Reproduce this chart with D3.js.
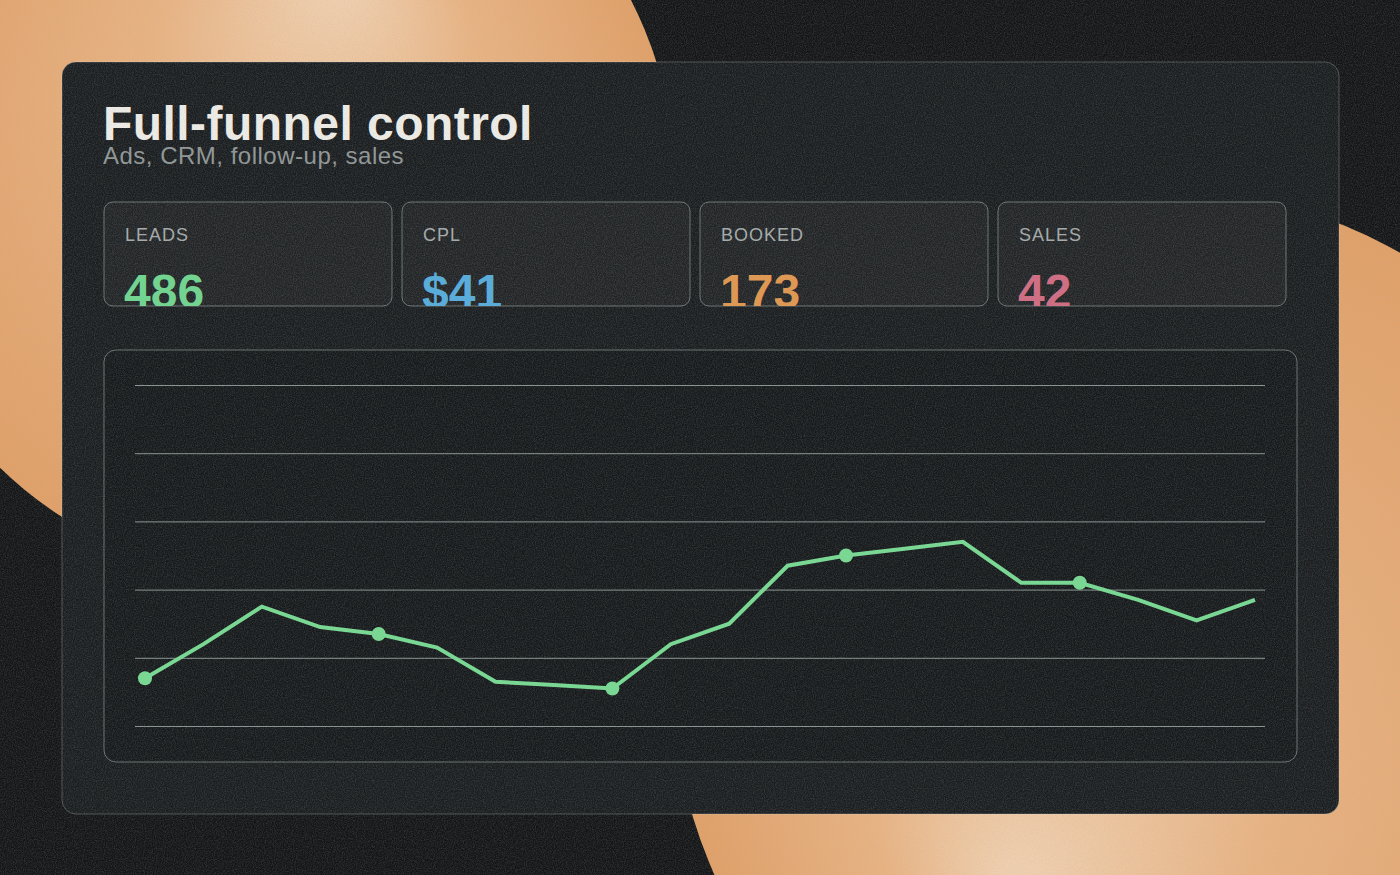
<!DOCTYPE html>
<html>
<head>
<meta charset="utf-8">
<script src="https://cdn.jsdelivr.net/npm/d3@7"></script>
<style>
  body { margin: 0; background: #131517; }
  svg { display: block; font-family: "Liberation Sans", Arial, sans-serif; }
</style>
</head>
<body>
<div id="chart"></div>
<script>
var title = "Full-funnel control";
var subtitle = "Ads, CRM, follow-up, sales";

var kpiLabels = ["LEADS", "CPL", "BOOKED", "SALES"];
var kpiValues = ["486", "$41", "173", "42"];
var kpiColors = ["#6fd68f", "#55acdc", "#e0974f", "#d06b82"];

// daily leads index
var days = d3.range(1, 21);
var leads = [14, 24, 35, 29, 27, 23, 13, 12, 11, 24, 30, 47, 50, 52, 54, 42, 42, 37, 31, 37];
var markedDays = [1, 5, 9, 13, 17];
var yTicks = [0, 20, 40, 60, 80, 100];

var W = 1400, H = 875;

var svg = d3.select("#chart").append("svg")
  .attr("width", W)
  .attr("height", H);

var defs = svg.append("defs");

// grain
var grain = defs.append("filter").attr("id", "grain")
  .attr("x", 0).attr("y", 0).attr("width", "100%").attr("height", "100%");
grain.append("feTurbulence")
  .attr("type", "fractalNoise")
  .attr("baseFrequency", 0.9)
  .attr("numOctaves", 2)
  .attr("seed", 4)
  .attr("stitchTiles", "stitch");
grain.append("feColorMatrix")
  .attr("type", "matrix")
  .attr("values", "0 0 0 0 0.45  0 0 0 0 0.42  0 0 0 0 0.4  0 0 0 1.8 -0.62");

function sandGradient(id, fx, fy) {
  var g = defs.append("radialGradient").attr("id", id)
    .attr("cx", "50%").attr("cy", "50%").attr("r", "50%")
    .attr("fx", fx).attr("fy", fy);
  g.append("stop").attr("offset", "0%").attr("stop-color", "#f1d2b2");
  g.append("stop").attr("offset", "40%").attr("stop-color", "#e9b382");
  g.append("stop").attr("offset", "100%").attr("stop-color", "#e1a067");
}
sandGradient("sandA", "58%", "24%");
sandGradient("sandB", "35%", "72%");

svg.append("rect").attr("width", W).attr("height", H).attr("fill", "#131517");
svg.append("circle").attr("cx", 277).attr("cy", 182).attr("r", 398).attr("fill", "url(#sandA)");
svg.append("circle").attr("cx", 1159).attr("cy", 676).attr("r", 487).attr("fill", "url(#sandB)");

// main panel
var panel = { x: 62, y: 62, w: 1277, h: 752 };
svg.append("rect")
  .attr("x", panel.x).attr("y", panel.y)
  .attr("width", panel.w).attr("height", panel.h)
  .attr("rx", 14)
  .attr("fill", "#1a1e20")
  .attr("stroke", "rgba(215,228,226,0.28)")
  .attr("stroke-width", 1);

svg.append("text")
  .attr("x", 103).attr("y", 140)
  .attr("fill", "#efede7")
  .attr("font-size", 48)
  .attr("font-weight", "bold")
  .attr("letter-spacing", 0.45)
  .text(title);

svg.append("text")
  .attr("x", 103).attr("y", 164)
  .attr("fill", "#8f9696")
  .attr("font-size", 24)
  .attr("letter-spacing", 0.5)
  .text(subtitle);

// KPI cards
var cardW = 288, cardH = 104, cardGap = 10, cardX0 = 104, cardY = 202;
var cards = svg.selectAll("g.kpi")
  .data(kpiLabels.map(function(d, i) { return { label: d, value: kpiValues[i], color: kpiColors[i], i: i }; }))
  .enter()
  .append("g")
  .attr("class", "kpi")
  .attr("transform", function(d) { return "translate(" + (cardX0 + d.i * (cardW + cardGap)) + "," + cardY + ")"; });

cards.each(function(d) {
  defs.append("clipPath").attr("id", "clip" + d.i)
    .append("rect").attr("width", cardW).attr("height", cardH).attr("rx", 9);
});

cards.append("rect")
  .attr("width", cardW).attr("height", cardH)
  .attr("rx", 9)
  .attr("fill", "rgba(255,255,255,0.035)")
  .attr("stroke", "rgba(195,212,210,0.45)")
  .attr("stroke-width", 1);

cards.append("text")
  .attr("x", 21).attr("y", 39)
  .attr("fill", "#a4abab")
  .attr("font-size", 18)
  .attr("letter-spacing", 1)
  .text(function(d) { return d.label; });

cards.append("g")
  .attr("clip-path", function(d) { return "url(#clip" + d.i + ")"; })
  .append("text")
  .attr("x", 20).attr("y", 106)
  .attr("fill", function(d) { return d.color; })
  .attr("font-size", 48)
  .attr("font-weight", "bold")
  .text(function(d) { return d.value; });

// chart card
var box = { x: 104, y: 350, w: 1193, h: 412 };
svg.append("rect")
  .attr("x", box.x).attr("y", box.y)
  .attr("width", box.w).attr("height", box.h)
  .attr("rx", 12)
  .attr("fill", "rgba(0,0,0,0.12)")
  .attr("stroke", "rgba(195,212,210,0.45)")
  .attr("stroke-width", 1);

var gridLeft = 135, gridRight = 1265;
var x = d3.scaleLinear().domain([1, 20]).range([145, 1255]);
var y = d3.scaleLinear().domain([0, 100]).range([726, 385]);

var grid = svg.append("g")
  .attr("transform", "translate(" + gridLeft + ",0)")
  .call(d3.axisLeft(y).tickValues(yTicks).tickSize(-(gridRight - gridLeft)).tickFormat(""));
grid.select(".domain").remove();
grid.selectAll(".tick line")
  .attr("stroke", "rgba(205,222,218,0.62)")
  .attr("stroke-width", 1);

svg.append("path")
  .datum(leads)
  .attr("fill", "none")
  .attr("stroke", "#76da92")
  .attr("stroke-width", 4)
  .attr("d", d3.line()
    .x(function(d, i) { return x(days[i]); })
    .y(function(d) { return y(d); })
  );

svg.selectAll("circle.mark")
  .data(markedDays)
  .enter()
  .append("circle")
  .attr("class", "mark")
  .attr("cx", function(d) { return x(d); })
  .attr("cy", function(d) { return y(leads[d - 1]); })
  .attr("r", 7)
  .attr("fill", "#76da92");

// film grain over everything
svg.append("rect")
  .attr("width", W).attr("height", H)
  .attr("filter", "url(#grain)")
  .attr("opacity", 0.22)
  .style("pointer-events", "none");
</script>
</body>
</html>
